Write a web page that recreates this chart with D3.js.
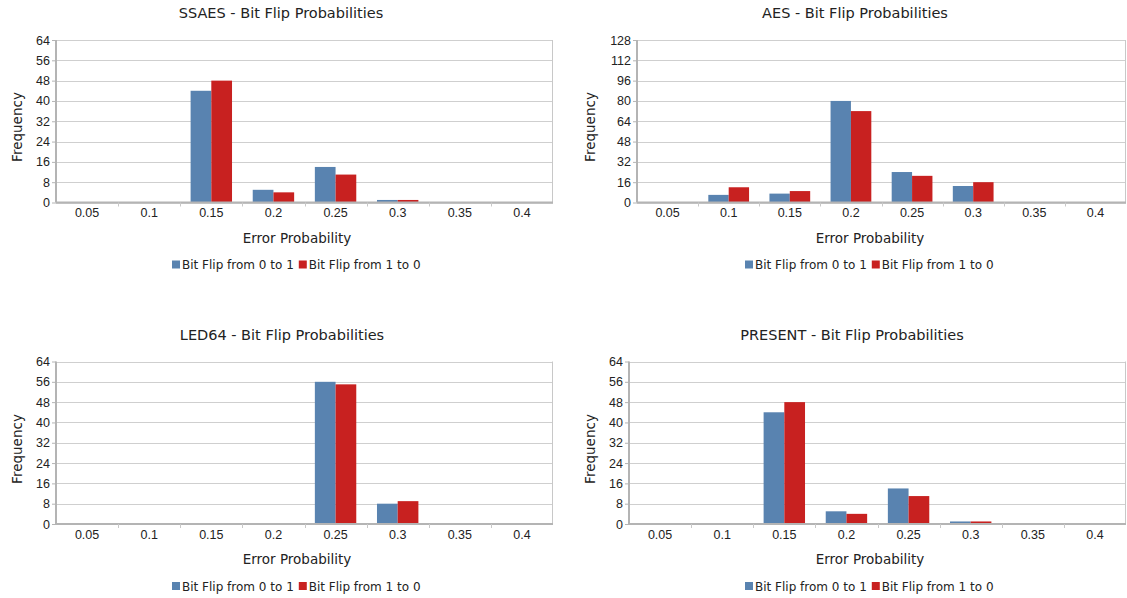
<!DOCTYPE html>
<html>
<head>
<meta charset="utf-8">
<script src="https://cdn.jsdelivr.net/npm/d3@7"></script>
<style>
  html, body { margin: 0; padding: 0; background: #fff; }
  svg { display: block; font-family: "DejaVu Sans", Verdana, sans-serif; }
</style>
</head>
<body>
<svg id="chart" width="1127" height="598"></svg>
<script>
// Error probability buckets shared by all four histograms
const categories = ["0.05", "0.1", "0.15", "0.2", "0.25", "0.3", "0.35", "0.4"];
const seriesNames = ["Bit Flip from 0 to 1", "Bit Flip from 1 to 0"];
const seriesColors = ["#5983b0", "#c82120"];

// Frequencies per cipher: [0 -> 1, 1 -> 0]
const ssaes01 = [0, 0, 44, 5, 14, 1, 0, 0];
const ssaes10 = [0, 0, 48, 4, 11, 1, 0, 0];
const aes01 = [0, 6, 7, 80, 24, 13, 0, 0];
const aes10 = [0, 12, 9, 72, 21, 16, 0, 0];
const led01 = [0, 0, 0, 0, 56, 8, 0, 0];
const led10 = [0, 0, 0, 0, 55, 9, 0, 0];
const present01 = [0, 0, 44, 5, 14, 1, 0, 0];
const present10 = [0, 0, 48, 4, 11, 1, 0, 0];

// Y-axis tick values
const ticks64 = [0, 8, 16, 24, 32, 40, 48, 56, 64];
const ticks128 = [0, 16, 32, 48, 64, 80, 96, 112, 128];

const panels = [
  { title: "SSAES - Bit Flip Probabilities", s: [ssaes01, ssaes10], ticks: ticks64,
    x0: 56, x1: 553, y0: 40, y1: 202.5, titleX: 281, xTitleX: 297, legendX: 172, fy: 127 },
  { title: "AES - Bit Flip Probabilities", s: [aes01, aes10], ticks: ticks128,
    x0: 637, x1: 1126, y0: 40, y1: 202.5, titleX: 855, xTitleX: 870, legendX: 745, fy: 127, fx: 590 },
  { title: "LED64 - Bit Flip Probabilities", s: [led01, led10], ticks: ticks64,
    x0: 56, x1: 553, y0: 361.5, y1: 524, titleX: 282, xTitleX: 297, legendX: 172, fy: 449 },
  { title: "PRESENT - Bit Flip Probabilities", s: [present01, present10], ticks: ticks64,
    x0: 629, x1: 1126, y0: 361.5, y1: 524, titleX: 852, xTitleX: 870, legendX: 745, fy: 449, fx: 590 }
];

const svg = d3.select("#chart");

panels.forEach(p => {
  const g = svg.append("g");
  const x = d3.scaleBand().domain(categories).range([p.x0, p.x1]);
  const xs = d3.scaleBand().domain([0, 1]).range([0, x.bandwidth()]).paddingOuter(0.5).paddingInner(0);
  const y = d3.scaleLinear().domain([0, p.ticks[p.ticks.length - 1]]).range([p.y1, p.y0]);

  // Title
  g.append("text").attr("x", p.titleX).attr("y", p.y0 - 22)
    .attr("text-anchor", "middle").attr("font-size", 14.5).attr("fill", "#222")
    .text(p.title);

  // Grid lines
  g.append("g").selectAll("line").data(p.ticks).join("line")
    .attr("x1", p.x0).attr("x2", p.x1)
    .attr("y1", d => Math.round(y(d)) + 0.5).attr("y2", d => Math.round(y(d)) + 0.5)
    .attr("stroke", "#cfcfcf").attr("stroke-width", 1.2);

  // Right frame edge
  g.append("line").attr("x1", p.x1 - 0.5).attr("x2", p.x1 - 0.5)
    .attr("y1", y(p.ticks[p.ticks.length - 1])).attr("y2", p.y1)
    .attr("stroke", "#c8c8c8");

  // Bars
  p.s.forEach((vals, si) => {
    g.append("g").selectAll("rect").data(vals.map((v, i) => ({ c: categories[i], v })))
      .join("rect")
      .attr("x", d => x(d.c) + xs(si))
      .attr("width", xs.bandwidth())
      .attr("y", d => y(d.v))
      .attr("height", d => y(0) - y(d.v))
      .attr("fill", seriesColors[si]);
  });

  // Y axis
  const yAxis = d3.axisLeft(y).tickValues(p.ticks).tickSize(4).tickPadding(2).tickFormat(d3.format("d"));
  const ya = g.append("g").attr("transform", `translate(${p.x0},0)`).call(yAxis);
  ya.select(".domain").attr("stroke", "#b4b4b4").attr("stroke-width", 2).attr("d", `M0,${p.y0}V${p.y1}`);
  ya.selectAll(".tick line").attr("stroke", "#b4b4b4");
  ya.selectAll(".tick text").attr("font-size", 12.5).attr("fill", "#222").attr("font-family", null);

  // X axis
  const xAxis = d3.axisBottom(x).tickSize(0).tickPadding(6);
  const xa = g.append("g").attr("transform", `translate(0,${p.y1})`).call(xAxis);
  xa.select(".domain").attr("stroke", "#b4b4b4").attr("stroke-width", 2).attr("d", `M${p.x0},0H${p.x1}`);
  xa.selectAll(".tick text").attr("font-size", 12.5).attr("fill", "#222").attr("font-family", null);
  // Category separators below the baseline
  g.append("g").selectAll("line").data(categories.slice(1)).join("line")
    .attr("x1", d => Math.round(x(d)) + 0.5).attr("x2", d => Math.round(x(d)) + 0.5)
    .attr("y1", p.y1).attr("y2", p.y1 + 4)
    .attr("stroke", "#c8c8c8");

  // Axis titles
  g.append("text").attr("x", p.xTitleX).attr("y", p.y1 + 40)
    .attr("text-anchor", "middle").attr("font-size", 13.5).attr("fill", "#222")
    .text("Error Probability");
  g.append("text")
    .attr("transform", `translate(${(p.fx || 17) + 5},${p.fy}) rotate(-90)`)
    .attr("text-anchor", "middle").attr("font-size", 13.5).attr("fill", "#222")
    .text("Frequency");

  // Legend
  const lg = g.append("g").attr("transform", `translate(${p.legendX},${p.y1 + 62})`);
  let lx = 0;
  seriesNames.forEach((name, i) => {
    lg.append("rect").attr("x", lx).attr("y", -4).attr("width", 8).attr("height", 8).attr("fill", seriesColors[i]);
    const t = lg.append("text").attr("x", lx + 10).attr("y", 4.5)
      .attr("font-size", 12).attr("fill", "#222").text(name);
    lx += 10 + t.node().getComputedTextLength() + 5;
  });
});
</script>
</body>
</html>
